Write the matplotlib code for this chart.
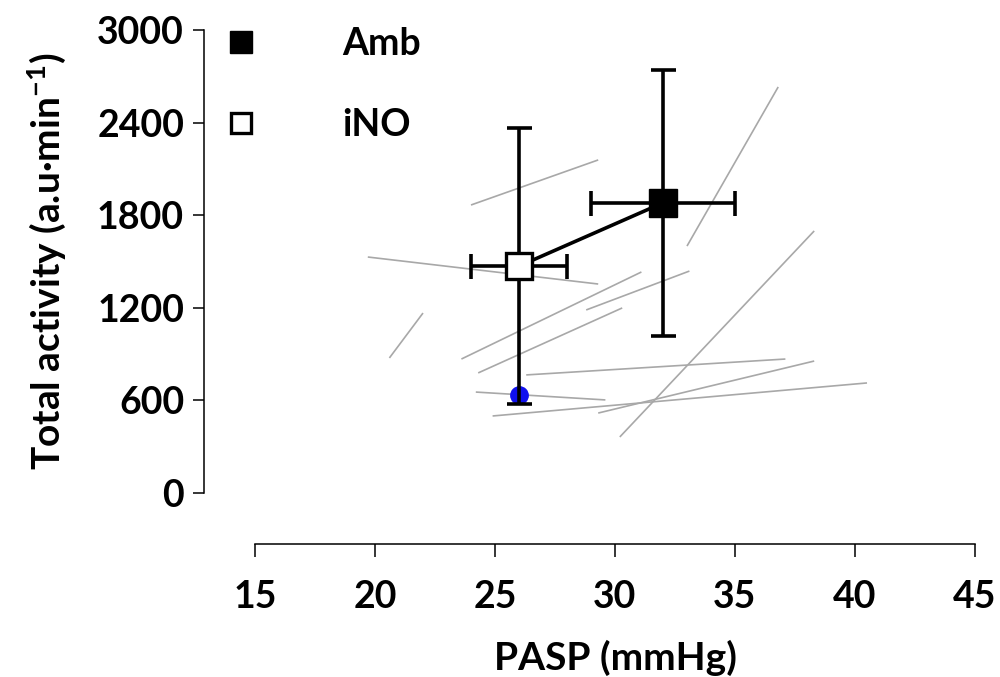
import matplotlib
matplotlib.use("Agg")
import matplotlib.pyplot as plt
from matplotlib.lines import Line2D

plt.rcParams['font.family'] = ['Lato', 'DejaVu Sans']
plt.rcParams['font.weight'] = 'bold'
plt.rcParams['mathtext.fontset'] = 'custom'
plt.rcParams['mathtext.rm'] = 'Lato:bold'
plt.rcParams['mathtext.default'] = 'rm'

# group means (PASP, total activity) with SD
groups = ['Amb', 'iNO']
pasp_mean = [32, 26]
pasp_sd = [3, 2]
activity_mean = [1880, 1470]
activity_sd = [860, 895]

# individual subjects: iNO -> Amb
subj_pasp_ino = [24.0, 19.7, 20.6, 23.6, 28.8, 24.3, 26.3, 24.2, 24.9, 29.3, 30.2, 33.0]
subj_pasp_amb = [29.3, 29.3, 22.0, 31.1, 33.1, 30.3, 37.1, 29.6, 40.5, 38.3, 38.3, 36.8]
subj_act_ino = [1866, 1529, 875, 868, 1186, 778, 765, 654, 499, 518, 363, 1600]
subj_act_amb = [2158, 1354, 1166, 1432, 1438, 1199, 868, 603, 713, 855, 1698, 2631]

# stray point under the iNO error bar
extra_pasp = [26]
extra_act = [635]

x_ticks = [15, 20, 25, 30, 35, 40, 45]
y_ticks = [0, 600, 1200, 1800, 2400, 3000]

fig = plt.figure(figsize=(10, 6.77), dpi=100)
ax = fig.add_axes([0.255, 0.2718, 0.72, 0.6839])

for x0, x1, y0, y1 in zip(subj_pasp_ino, subj_pasp_amb, subj_act_ino, subj_act_amb):
    ax.plot([x0, x1], [y0, y1], color='#a8a8a8', lw=1.2, zorder=1, solid_capstyle='butt')

ax.plot(extra_pasp, extra_act, 'o', color='#1010ee', markersize=12.5, zorder=2)

ax.errorbar(pasp_mean, activity_mean, xerr=pasp_sd, yerr=activity_sd, fmt='none',
            ecolor='black', elinewidth=2.6, capsize=9, capthick=2.6, zorder=3)
ax.plot(pasp_mean, activity_mean, color='black', lw=2.6, zorder=4)
ax.plot(pasp_mean[0], activity_mean[0], 's', color='black', markersize=20, zorder=5)
ax.plot(pasp_mean[1], activity_mean[1], 's', markerfacecolor='white',
        markeredgecolor='black', markeredgewidth=2.4, markersize=19, zorder=5)

ax.set_xlim(15, 45)
ax.set_ylim(0, 3000)
ax.set_xticks(x_ticks)
ax.set_yticks(y_ticks)

for side in ['top', 'right']:
    ax.spines[side].set_visible(False)
ax.spines['left'].set_position(('outward', 37))
ax.spines['bottom'].set_position(('outward', 37))
ax.spines['left'].set_bounds(0, 3000)
ax.spines['bottom'].set_bounds(15, 45)
for side in ['left', 'bottom']:
    ax.spines[side].set_linewidth(1.1)

ax.tick_params(axis='both', direction='out', width=1.1, labelsize=27, colors='black')
ax.tick_params(axis='y', length=8, pad=6)
ax.tick_params(axis='x', length=9, pad=17)
for lbl in ax.get_xticklabels() + ax.get_yticklabels():
    lbl.set_fontweight('bold')

ax.set_xlabel('PASP (mmHg)', fontsize=28, fontweight='bold', labelpad=18)
ax.set_ylabel('Total activity (a.u·min$^{-1}$)', fontsize=28,
              fontweight='bold', labelpad=21)

handles = [
    Line2D([0], [0], marker='s', linestyle='none', color='black', markersize=16),
    Line2D([0], [0], marker='s', linestyle='none', markerfacecolor='white',
           markeredgecolor='black', markeredgewidth=2.4, markersize=15),
]
ax.legend(handles, groups, loc='upper left', bbox_to_anchor=(0.188, 1.01),
          bbox_transform=fig.transFigure, frameon=False,
          labelspacing=1.25, handletextpad=2.2, handlelength=1.0,
          prop={'weight': 'bold', 'size': 27})

fig.savefig('out.png', dpi=100)
